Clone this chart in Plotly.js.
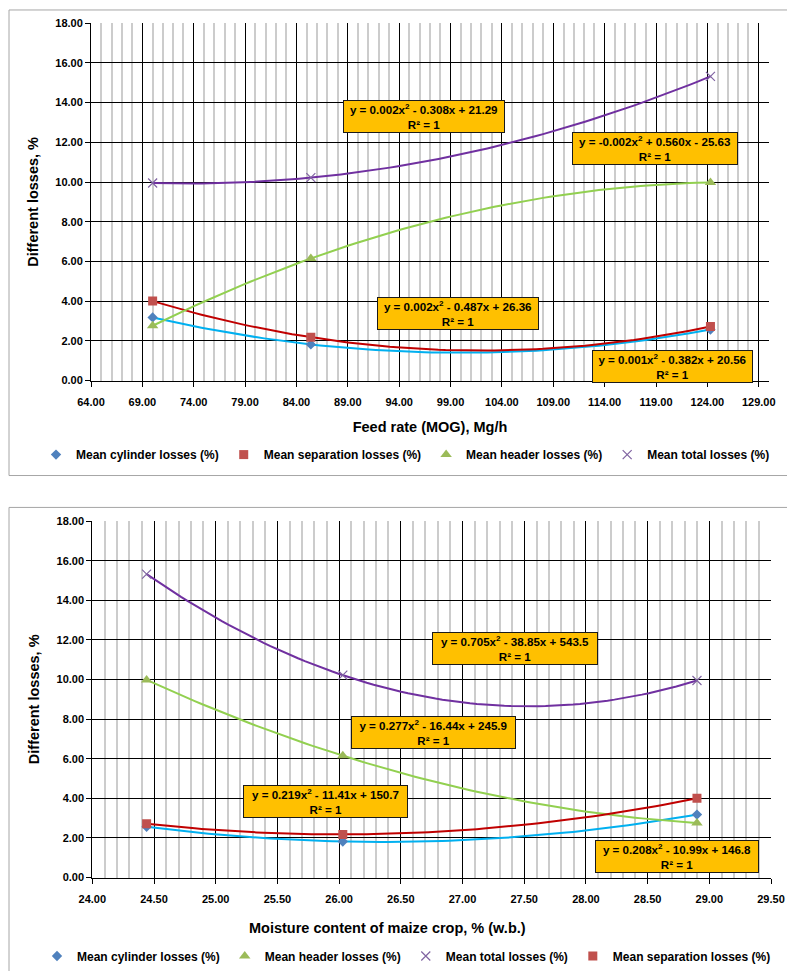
<!DOCTYPE html>
<html><head><meta charset="utf-8">
<script src="https://cdn.plot.ly/plotly-3.0.1.min.js"></script>
<style>body{margin:0;background:#fff}#chart{width:787px;height:971px}</style>
</head><body><div id="chart"></div>
<script>
// ---- data ----
const feedRate = [70.0, 85.4, 124.3];          // Mg/h (MOG)
const moisture = [28.9, 26.03, 24.44];         // % w.b. (same runs)
const cylinderLoss = [3.18, 1.82, 2.57];
const separationLoss = [4.0, 2.18, 2.72];
const headerLoss = [2.76, 6.15, 9.98];
const totalLoss = [9.95, 10.22, 15.32];

const seriesNames = ['Mean cylinder losses (%)', 'Mean separation losses (%)', 'Mean header losses (%)', 'Mean total losses (%)'];
const feedEquations = [
  'y = 0.001x<sup>2</sup> - 0.382x + 20.56<br>R² = 1',
  'y = 0.002x<sup>2</sup> - 0.487x + 26.36<br>R² = 1',
  'y = -0.002x<sup>2</sup> + 0.560x - 25.63<br>R² = 1',
  'y = 0.002x<sup>2</sup> - 0.308x + 21.29<br>R² = 1'
];
const moistEquations = [
  'y = 0.208x<sup>2</sup> - 10.99x + 146.8<br>R² = 1',
  'y = 0.219x<sup>2</sup> - 11.41x + 150.7<br>R² = 1',
  'y = 0.277x<sup>2</sup> - 16.44x + 245.9<br>R² = 1',
  'y = 0.705x<sup>2</sup> - 38.85x + 543.5<br>R² = 1'
];
const xTitleTop = 'Feed rate (MOG), Mg/h';
const xTitleBottom = 'Moisture content of maize crop, % (w.b.)';
const yTitle = 'Different losses, %';

// ---- styling ----
const W = 787, H = 971;
const FONT = 'Arial, "Liberation Sans", sans-serif';
const markerStyles = [
  {symbol:'diamond', color:'#4F81BD', size:8},
  {symbol:'square', color:'#C0504D', size:9},
  {symbol:'triangle-up', color:'#9BBB59', size:10},
  {symbol:'x-thin-open', color:'#8064A2', size:9, line:{color:'#8064A2', width:1.2}}
];
const trendColors = ['#00B0F0', '#C00000', '#92D050', '#7030A0'];
const seriesValues = [cylinderLoss, separationLoss, headerLoss, totalLoss];

// quadratic least-squares trendline (as the spreadsheet's polynomial trendline)
function quadFit(xs, ys) {
  let s = [0,0,0,0,0], t = [0,0,0];
  for (let i = 0; i < xs.length; i++) {
    let p = 1;
    for (let k = 0; k < 5; k++) { s[k] += p; if (k < 3) t[k] += p * ys[i]; p *= xs[i]; }
  }
  const A = [[s[0],s[1],s[2],t[0]],[s[1],s[2],s[3],t[1]],[s[2],s[3],s[4],t[2]]];
  for (let c = 0; c < 3; c++) {
    for (let r = c+1; r < 3; r++) {
      const f = A[r][c]/A[c][c];
      for (let k = c; k < 4; k++) A[r][k] -= f*A[c][k];
    }
  }
  const b = [0,0,0];
  for (let r = 2; r >= 0; r--) {
    let v = A[r][3];
    for (let k = r+1; k < 3; k++) v -= A[r][k]*b[k];
    b[r] = v/A[r][r];
  }
  return x => b[0] + b[1]*x + b[2]*x*x;
}
function trend(xs, ys) {
  const f = quadFit(xs, ys);
  const lo = Math.min(...xs), hi = Math.max(...xs);
  const X = [], Y = [];
  for (let i = 0; i <= 80; i++) { const x = lo + (hi-lo)*i/80; X.push(x); Y.push(f(x)); }
  return {X, Y};
}

const traces = [];
function addSeries(xs, xa, ya, legendId, order) {
  order.forEach(i => {
    const t = trend(xs, seriesValues[i]);
    traces.push({x:t.X, y:t.Y, xaxis:xa, yaxis:ya, mode:'lines', line:{color:trendColors[i], width:2},
      showlegend:false, hoverinfo:'skip'});
  });
  order.forEach(i => {
    traces.push({x:xs, y:seriesValues[i], xaxis:xa, yaxis:ya, mode:'markers', name:seriesNames[i],
      marker:markerStyles[i], legend:legendId});
  });
}
addSeries(feedRate, 'x', 'y', 'legend', [0,1,2,3]);
addSeries(moisture, 'x2', 'y2', 'legend2', [0,2,3,1]);

const tickFont = {family:FONT, size:11, color:'#000', weight:'bold'};
const titleFont = {family:FONT, size:14.5, color:'#000', weight:'bold'};
function xAxis(domain, anchor, range, tick0, dtick, minorDtick, title) {
  const ax = {domain, anchor, range, tick0, dtick, tickformat:'.2f', showgrid:true, gridcolor:'#000', gridwidth:1,
    minor:{dtick:minorDtick, tick0:tick0, showgrid:true, gridcolor:'#cccccc', gridwidth:1.5},
    showline:true, linecolor:'#000', linewidth:1, ticks:'outside', ticklen:5, tickcolor:'#000',
    zeroline:false, tickfont:tickFont, ticklabelstandoff:6, fixedrange:true};
  if (title) ax.title = {text:title, font:titleFont, standoff:15};
  return ax;
}
function yAxis(domain, anchor) {
  return {domain, anchor, range:[0,18], dtick:2, tickformat:'.2f', showgrid:true, gridcolor:'#000', gridwidth:1,
    showline:true, linecolor:'#000', linewidth:1, ticks:'outside', ticklen:5, tickcolor:'#000',
    zeroline:false, tickfont:tickFont, fixedrange:true,
    title:{text:yTitle, font:titleFont, standoff:13}};
}
const px = v => v / W, py = v => 1 - v / H;

function eqAnn(text, cx, cy, w) {
  return {text, x:px(cx), y:py(cy), xref:'paper', yref:'paper', xanchor:'center', yanchor:'middle',
    showarrow:false, bgcolor:'#FFC000', bordercolor:'#1a1a1a', borderwidth:1, borderpad:1,
    width:w-4, height:29, align:'center', font:{family:FONT, size:11.6, color:'#000', weight:'bold'}};
}

const annotations = [
  eqAnn(feedEquations[3], 424, 116.7, 162),
  eqAnn(feedEquations[2], 654.5, 148.8, 166),
  eqAnn(feedEquations[1], 457.5, 314.7, 162),
  eqAnn(feedEquations[0], 672.8, 367.8, 161),
  eqAnn(moistEquations[3], 515.2, 650.2, 166),
  eqAnn(moistEquations[2], 433.8, 734.5, 165),
  eqAnn(moistEquations[1], 325.7, 803.5, 165),
  eqAnn(moistEquations[0], 677.2, 858.7, 164),
  {text:xTitleBottom, x:px(387.5), y:py(931), xref:'paper', yref:'paper', xanchor:'center', yanchor:'middle',
   showarrow:false, font:titleFont}
];

const legendBase = {orientation:'h', xanchor:'left', yanchor:'middle', bgcolor:'rgba(0,0,0,0)',
  font:{family:FONT, size:12, color:'#000', weight:'bold'}, itemclick:false, itemdoubleclick:false};

const layout = {
  width:W, height:H, autosize:false, margin:{l:0, r:0, t:0, b:0},
  paper_bgcolor:'#fff', plot_bgcolor:'#fff', font:{family:FONT},
  xaxis: xAxis([px(91), px(769)], 'y', [64,130], 64, 5, 1, xTitleTop),
  yaxis: yAxis([py(381.7), py(23.3)], 'x'),
  xaxis2: xAxis([px(92.3), px(771)], 'y2', [24,29.5], 24, 0.5, 0.1, null),
  yaxis2: yAxis([py(880.3), py(522.7)], 'x2'),
  legend: Object.assign({}, legendBase, {x:px(36), y:py(456)}),
  legend2: Object.assign({}, legendBase, {x:px(37), y:py(959)}),
  annotations,
  shapes:[
    {type:'rect', xref:'paper', yref:'paper', x0:px(9), x1:1.05, y0:py(477), y1:py(10), line:{color:'#a6a6a6', width:1}, layer:'below'},
    {type:'rect', xref:'paper', yref:'paper', x0:px(9), x1:1.05, y0:-0.05, y1:py(509), line:{color:'#a6a6a6', width:1}, layer:'below'}
  ],
  showlegend:true
};

Plotly.newPlot('chart', traces, layout, {displayModeBar:false, responsive:false});
</script>
</body></html>
